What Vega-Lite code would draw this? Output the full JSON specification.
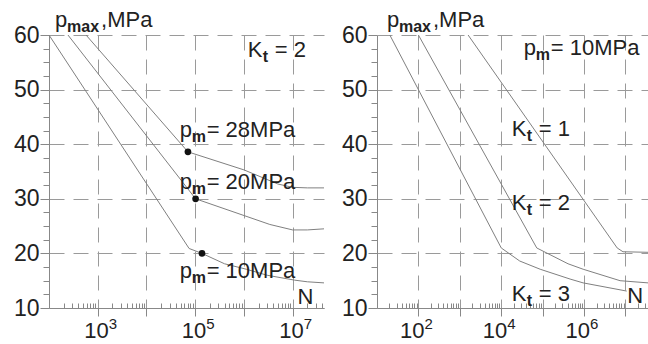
{
  "$schema": "https://vega.github.io/schema/vega-lite/v6.json",
  "background": "white",
  "padding": {"left": 0, "top": 8, "right": 0, "bottom": 0},
  "bounds": "flush",
  "spacing": 53,
  "config": {
    "view": {"stroke": null},
    "font": "Liberation Sans",
    "axis": {"labelFont": "Liberation Sans", "labelColor": "#222", "domainColor": "#888", "tickColor": "#888", "title": null, "labelFontSize": 23}
  },
  "datasets": {
    "curvesL": [
      {"s": "pm10", "N": 100, "p": 60}, {"s": "pm10", "N": 75000, "p": 20.9}, {"s": "pm10", "N": 138000, "p": 20}, {"s": "pm10", "N": 400000, "p": 18.1}, {"s": "pm10", "N": 1120000, "p": 17.1}, {"s": "pm10", "N": 3000000, "p": 16.0}, {"s": "pm10", "N": 11000000, "p": 15.1}, {"s": "pm10", "N": 20000000, "p": 14.8}, {"s": "pm10", "N": 44000000, "p": 14.6},
      {"s": "pm20", "N": 245, "p": 60}, {"s": "pm20", "N": 102000, "p": 30}, {"s": "pm20", "N": 3400000, "p": 25.3}, {"s": "pm20", "N": 10000000, "p": 24.3}, {"s": "pm20", "N": 20000000, "p": 24.3}, {"s": "pm20", "N": 44000000, "p": 24.5},
      {"s": "pm28", "N": 575, "p": 60}, {"s": "pm28", "N": 71000, "p": 38.6}, {"s": "pm28", "N": 1000000, "p": 35.3}, {"s": "pm28", "N": 5000000, "p": 32.7}, {"s": "pm28", "N": 10000000, "p": 32.1}, {"s": "pm28", "N": 20000000, "p": 32.0}, {"s": "pm28", "N": 44000000, "p": 32.0}
    ],
    "dotsL": [
      {"N": 71000, "p": 38.6}, {"N": 102000, "p": 30}, {"N": 138000, "p": 20}
    ],
    "labelsL": [
      {"kind": "pmax", "N": 133, "p": 61.5, "sym": "p", "sub": "max", "rest": ",MPa"},
      {"kind": "Kt", "N": 1200000, "p": 56.0, "sym": "K", "sub": "t", "rest": "= 2"},
      {"kind": "pm", "N": 48000, "p": 41.3, "sym": "p", "sub": "m", "rest": "= 28MPa"},
      {"kind": "pm", "N": 48000, "p": 31.8, "sym": "p", "sub": "m", "rest": "= 20MPa"},
      {"kind": "pm", "N": 48000, "p": 15.5, "sym": "p", "sub": "m", "rest": "= 10MPa"},
      {"kind": "N", "N": 12600000, "p": 10.7, "sym": "N", "sub": "", "rest": ""}
    ],
    "ticksL": [
      {"N": 1000, "b": "10", "e": "3"}, {"N": 100000, "b": "10", "e": "5"}, {"N": 10000000, "b": "10", "e": "7"}
    ],
    "curvesR": [
      {"s": "Kt1", "N": 1585, "p": 60}, {"s": "Kt1", "N": 6300000, "p": 21}, {"s": "Kt1", "N": 8700000, "p": 20.3}, {"s": "Kt1", "N": 35000000, "p": 20.2},
      {"s": "Kt2", "N": 100, "p": 60}, {"s": "Kt2", "N": 72000, "p": 21}, {"s": "Kt2", "N": 410000, "p": 18.1}, {"s": "Kt2", "N": 950000, "p": 17.1}, {"s": "Kt2", "N": 7400000, "p": 15.0}, {"s": "Kt2", "N": 35000000, "p": 14.6},
      {"s": "Kt3", "N": 20.4, "p": 60}, {"s": "Kt3", "N": 10000, "p": 21}, {"s": "Kt3", "N": 28000, "p": 18.6}, {"s": "Kt3", "N": 87000, "p": 17.1}, {"s": "Kt3", "N": 460000, "p": 15.3}, {"s": "Kt3", "N": 950000, "p": 14.6}, {"s": "Kt3", "N": 10700000, "p": 13.1}
    ],
    "labelsR": [
      {"kind": "pmax", "N": 17.4, "p": 61.5, "sym": "p", "sub": "max", "rest": ",MPa"},
      {"kind": "pm", "N": 35000, "p": 56.3, "sym": "p", "sub": "m", "rest": "= 10MPa"},
      {"kind": "Kt", "N": 18000, "p": 41.5, "sym": "K", "sub": "t", "rest": "= 1"},
      {"kind": "Kt", "N": 18000, "p": 28.0, "sym": "K", "sub": "t", "rest": "= 2"},
      {"kind": "Kt", "N": 18000, "p": 11.3, "sym": "K", "sub": "t", "rest": "= 3"},
      {"kind": "N", "N": 11000000, "p": 10.9, "sym": "N", "sub": "", "rest": ""}
    ],
    "ticksR": [
      {"N": 100, "b": "10", "e": "2"}, {"N": 10000, "b": "10", "e": "4"}, {"N": 1000000, "b": "10", "e": "6"}
    ]
  },
  "hconcat": [
    {
      "width": 275,
      "height": 273,
      "resolve": {"axis": {"x": "independent", "y": "independent"}},
      "layer": [
        {
          "data": {"name": "curvesL"},
          "mark": {"type": "line", "color": "#808080", "strokeWidth": 1},
          "encoding": {
            "x": {"field": "N", "type": "quantitative", "scale": {"type": "log", "domain": [100, 44000000], "nice": false},
              "axis": {"orient": "bottom", "values": [1000, 10000, 100000, 1000000, 10000000], "labels": false, "grid": true, "gridDash": [15, 9], "gridColor": "#9a9a9a", "tickSize": 8}},
            "y": {"field": "p", "type": "quantitative", "scale": {"domain": [10, 60], "nice": false, "zero": false},
              "axis": {"orient": "left", "values": [10, 20, 30, 40, 50, 60], "grid": true, "gridDash": [15, 9], "gridColor": "#9a9a9a", "tickSize": 9, "labelPadding": 1, "minExtent": 49, "maxExtent": 49}},
            "detail": {"field": "s"}
          }
        },
        {
          "data": {"name": "dotsL"},
          "mark": {"type": "circle", "color": "#111", "opacity": 1, "size": 45},
          "encoding": {
            "x": {"field": "N", "type": "quantitative", "scale": {"type": "log", "domain": [100, 44000000], "nice": false},
              "axis": {"orient": "bottom", "values": [200, 300, 400, 500, 600, 700, 800, 900, 2000, 3000, 4000, 5000, 6000, 7000, 8000, 9000, 20000, 30000, 40000, 50000, 60000, 70000, 80000, 90000, 200000, 300000, 400000, 500000, 600000, 700000, 800000, 900000, 2000000, 3000000, 4000000, 5000000, 6000000, 7000000, 8000000, 9000000, 20000000, 30000000, 40000000], "labels": false, "domain": false, "grid": false, "tickSize": -5}},
            "y": {"field": "p", "type": "quantitative", "scale": {"domain": [10, 60], "nice": false, "zero": false},
              "axis": {"orient": "left", "values": [12.5, 15, 17.5, 22.5, 25, 27.5, 32.5, 35, 37.5, 42.5, 45, 47.5, 52.5, 55, 57.5], "labels": false, "domain": false, "grid": false, "tickSize": 6}}
          }
        },
        {
          "data": {"name": "ticksL"},
          "mark": {"type": "text", "align": "right", "baseline": "alphabetic", "fontSize": 22, "color": "#222", "dx": 11, "dy": 30},
          "encoding": {
            "x": {"field": "N", "type": "quantitative", "scale": {"type": "log", "domain": [100, 44000000], "nice": false}, "axis": null},
            "y": {"datum": 10, "type": "quantitative", "scale": {"domain": [10, 60], "nice": false, "zero": false}, "axis": null},
            "text": {"field": "b"}
          }
        },
        {
          "data": {"name": "ticksL"},
          "mark": {"type": "text", "align": "left", "baseline": "alphabetic", "fontSize": 15, "color": "#222", "dx": 11, "dy": 21},
          "encoding": {
            "x": {"field": "N", "type": "quantitative", "scale": {"type": "log", "domain": [100, 44000000], "nice": false}, "axis": null},
            "y": {"datum": 10, "type": "quantitative", "scale": {"domain": [10, 60], "nice": false, "zero": false}, "axis": null},
            "text": {"field": "e"}
          }
        },
        {
          "data": {"name": "labelsL"},
          "mark": {"type": "text", "align": "left", "baseline": "alphabetic", "fontSize": 22, "color": "#222"},
          "encoding": {
            "x": {"field": "N", "type": "quantitative", "scale": {"type": "log", "domain": [100, 44000000], "nice": false}, "axis": null},
            "y": {"field": "p", "type": "quantitative", "scale": {"domain": [10, 60], "nice": false, "zero": false}, "axis": null},
            "text": {"field": "sym"}
          }
        },
        {
          "data": {"name": "labelsL"},
          "transform": [{"filter": "datum.kind == 'pmax' || datum.kind == 'pm'"}],
          "mark": {"type": "text", "align": "left", "baseline": "alphabetic", "fontSize": 16, "fontWeight": "bold", "color": "#222", "dx": 12, "dy": 5},
          "encoding": {
            "x": {"field": "N", "type": "quantitative", "scale": {"type": "log", "domain": [100, 44000000], "nice": false}, "axis": null},
            "y": {"field": "p", "type": "quantitative", "scale": {"domain": [10, 60], "nice": false, "zero": false}, "axis": null},
            "text": {"field": "sub"}
          }
        },
        {
          "data": {"name": "labelsL"},
          "transform": [{"filter": "datum.kind == 'Kt'"}],
          "mark": {"type": "text", "align": "left", "baseline": "alphabetic", "fontSize": 16, "fontWeight": "bold", "color": "#222", "dx": 15, "dy": 5},
          "encoding": {
            "x": {"field": "N", "type": "quantitative", "scale": {"type": "log", "domain": [100, 44000000], "nice": false}, "axis": null},
            "y": {"field": "p", "type": "quantitative", "scale": {"domain": [10, 60], "nice": false, "zero": false}, "axis": null},
            "text": {"field": "sub"}
          }
        },
        {
          "data": {"name": "labelsL"},
          "transform": [{"filter": "datum.kind == 'pmax'"}],
          "mark": {"type": "text", "align": "left", "baseline": "alphabetic", "fontSize": 22, "color": "#222", "dx": 46},
          "encoding": {
            "x": {"field": "N", "type": "quantitative", "scale": {"type": "log", "domain": [100, 44000000], "nice": false}, "axis": null},
            "y": {"field": "p", "type": "quantitative", "scale": {"domain": [10, 60], "nice": false, "zero": false}, "axis": null},
            "text": {"field": "rest"}
          }
        },
        {
          "data": {"name": "labelsL"},
          "transform": [{"filter": "datum.kind == 'pm'"}],
          "mark": {"type": "text", "align": "left", "baseline": "alphabetic", "fontSize": 22, "color": "#222", "dx": 27},
          "encoding": {
            "x": {"field": "N", "type": "quantitative", "scale": {"type": "log", "domain": [100, 44000000], "nice": false}, "axis": null},
            "y": {"field": "p", "type": "quantitative", "scale": {"domain": [10, 60], "nice": false, "zero": false}, "axis": null},
            "text": {"field": "rest"}
          }
        },
        {
          "data": {"name": "labelsL"},
          "transform": [{"filter": "datum.kind == 'Kt'"}],
          "mark": {"type": "text", "align": "left", "baseline": "alphabetic", "fontSize": 22, "color": "#222", "dx": 27},
          "encoding": {
            "x": {"field": "N", "type": "quantitative", "scale": {"type": "log", "domain": [100, 44000000], "nice": false}, "axis": null},
            "y": {"field": "p", "type": "quantitative", "scale": {"domain": [10, 60], "nice": false, "zero": false}, "axis": null},
            "text": {"field": "rest"}
          }
        }
      ]
    },
    {
      "width": 271,
      "height": 273,
      "resolve": {"axis": {"x": "independent", "y": "independent"}},
      "layer": [
        {
          "data": {"name": "curvesR"},
          "mark": {"type": "line", "color": "#808080", "strokeWidth": 1},
          "encoding": {
            "x": {"field": "N", "type": "quantitative", "scale": {"type": "log", "domain": [10, 35000000], "nice": false},
              "axis": {"orient": "bottom", "values": [100, 1000, 10000, 100000, 1000000, 10000000], "labels": false, "grid": true, "gridDash": [15, 9], "gridColor": "#9a9a9a", "tickSize": 8}},
            "y": {"field": "p", "type": "quantitative", "scale": {"domain": [10, 60], "nice": false, "zero": false},
              "axis": {"orient": "left", "values": [10, 20, 30, 40, 50, 60], "grid": true, "gridDash": [15, 9], "gridColor": "#9a9a9a", "tickSize": 9, "labelPadding": 1}},
            "detail": {"field": "s"}
          }
        },
        {
          "data": {"name": "curvesR"},
          "mark": {"type": "point", "opacity": 0},
          "encoding": {
            "x": {"field": "N", "type": "quantitative", "scale": {"type": "log", "domain": [10, 35000000], "nice": false},
              "axis": {"orient": "bottom", "values": [20, 30, 40, 50, 60, 70, 80, 90, 200, 300, 400, 500, 600, 700, 800, 900, 2000, 3000, 4000, 5000, 6000, 7000, 8000, 9000, 20000, 30000, 40000, 50000, 60000, 70000, 80000, 90000, 200000, 300000, 400000, 500000, 600000, 700000, 800000, 900000, 2000000, 3000000, 4000000, 5000000, 6000000, 7000000, 8000000, 9000000, 20000000, 30000000], "labels": false, "domain": false, "grid": false, "tickSize": -5}},
            "y": {"field": "p", "type": "quantitative", "scale": {"domain": [10, 60], "nice": false, "zero": false},
              "axis": {"orient": "left", "values": [12.5, 15, 17.5, 22.5, 25, 27.5, 32.5, 35, 37.5, 42.5, 45, 47.5, 52.5, 55, 57.5], "labels": false, "domain": false, "grid": false, "tickSize": 6}}
          }
        },
        {
          "data": {"name": "ticksR"},
          "mark": {"type": "text", "align": "right", "baseline": "alphabetic", "fontSize": 22, "color": "#222", "dx": 6, "dy": 30},
          "encoding": {
            "x": {"field": "N", "type": "quantitative", "scale": {"type": "log", "domain": [10, 35000000], "nice": false}, "axis": null},
            "y": {"datum": 10, "type": "quantitative", "scale": {"domain": [10, 60], "nice": false, "zero": false}, "axis": null},
            "text": {"field": "b"}
          }
        },
        {
          "data": {"name": "ticksR"},
          "mark": {"type": "text", "align": "left", "baseline": "alphabetic", "fontSize": 15, "color": "#222", "dx": 6, "dy": 21},
          "encoding": {
            "x": {"field": "N", "type": "quantitative", "scale": {"type": "log", "domain": [10, 35000000], "nice": false}, "axis": null},
            "y": {"datum": 10, "type": "quantitative", "scale": {"domain": [10, 60], "nice": false, "zero": false}, "axis": null},
            "text": {"field": "e"}
          }
        },
        {
          "data": {"name": "labelsR"},
          "mark": {"type": "text", "align": "left", "baseline": "alphabetic", "fontSize": 22, "color": "#222"},
          "encoding": {
            "x": {"field": "N", "type": "quantitative", "scale": {"type": "log", "domain": [10, 35000000], "nice": false}, "axis": null},
            "y": {"field": "p", "type": "quantitative", "scale": {"domain": [10, 60], "nice": false, "zero": false}, "axis": null},
            "text": {"field": "sym"}
          }
        },
        {
          "data": {"name": "labelsR"},
          "transform": [{"filter": "datum.kind == 'pmax' || datum.kind == 'pm'"}],
          "mark": {"type": "text", "align": "left", "baseline": "alphabetic", "fontSize": 16, "fontWeight": "bold", "color": "#222", "dx": 12, "dy": 5},
          "encoding": {
            "x": {"field": "N", "type": "quantitative", "scale": {"type": "log", "domain": [10, 35000000], "nice": false}, "axis": null},
            "y": {"field": "p", "type": "quantitative", "scale": {"domain": [10, 60], "nice": false, "zero": false}, "axis": null},
            "text": {"field": "sub"}
          }
        },
        {
          "data": {"name": "labelsR"},
          "transform": [{"filter": "datum.kind == 'Kt'"}],
          "mark": {"type": "text", "align": "left", "baseline": "alphabetic", "fontSize": 16, "fontWeight": "bold", "color": "#222", "dx": 15, "dy": 5},
          "encoding": {
            "x": {"field": "N", "type": "quantitative", "scale": {"type": "log", "domain": [10, 35000000], "nice": false}, "axis": null},
            "y": {"field": "p", "type": "quantitative", "scale": {"domain": [10, 60], "nice": false, "zero": false}, "axis": null},
            "text": {"field": "sub"}
          }
        },
        {
          "data": {"name": "labelsR"},
          "transform": [{"filter": "datum.kind == 'pmax'"}],
          "mark": {"type": "text", "align": "left", "baseline": "alphabetic", "fontSize": 22, "color": "#222", "dx": 46},
          "encoding": {
            "x": {"field": "N", "type": "quantitative", "scale": {"type": "log", "domain": [10, 35000000], "nice": false}, "axis": null},
            "y": {"field": "p", "type": "quantitative", "scale": {"domain": [10, 60], "nice": false, "zero": false}, "axis": null},
            "text": {"field": "rest"}
          }
        },
        {
          "data": {"name": "labelsR"},
          "transform": [{"filter": "datum.kind == 'pm'"}],
          "mark": {"type": "text", "align": "left", "baseline": "alphabetic", "fontSize": 22, "color": "#222", "dx": 27},
          "encoding": {
            "x": {"field": "N", "type": "quantitative", "scale": {"type": "log", "domain": [10, 35000000], "nice": false}, "axis": null},
            "y": {"field": "p", "type": "quantitative", "scale": {"domain": [10, 60], "nice": false, "zero": false}, "axis": null},
            "text": {"field": "rest"}
          }
        },
        {
          "data": {"name": "labelsR"},
          "transform": [{"filter": "datum.kind == 'Kt'"}],
          "mark": {"type": "text", "align": "left", "baseline": "alphabetic", "fontSize": 22, "color": "#222", "dx": 27},
          "encoding": {
            "x": {"field": "N", "type": "quantitative", "scale": {"type": "log", "domain": [10, 35000000], "nice": false}, "axis": null},
            "y": {"field": "p", "type": "quantitative", "scale": {"domain": [10, 60], "nice": false, "zero": false}, "axis": null},
            "text": {"field": "rest"}
          }
        }
      ]
    }
  ]
}
